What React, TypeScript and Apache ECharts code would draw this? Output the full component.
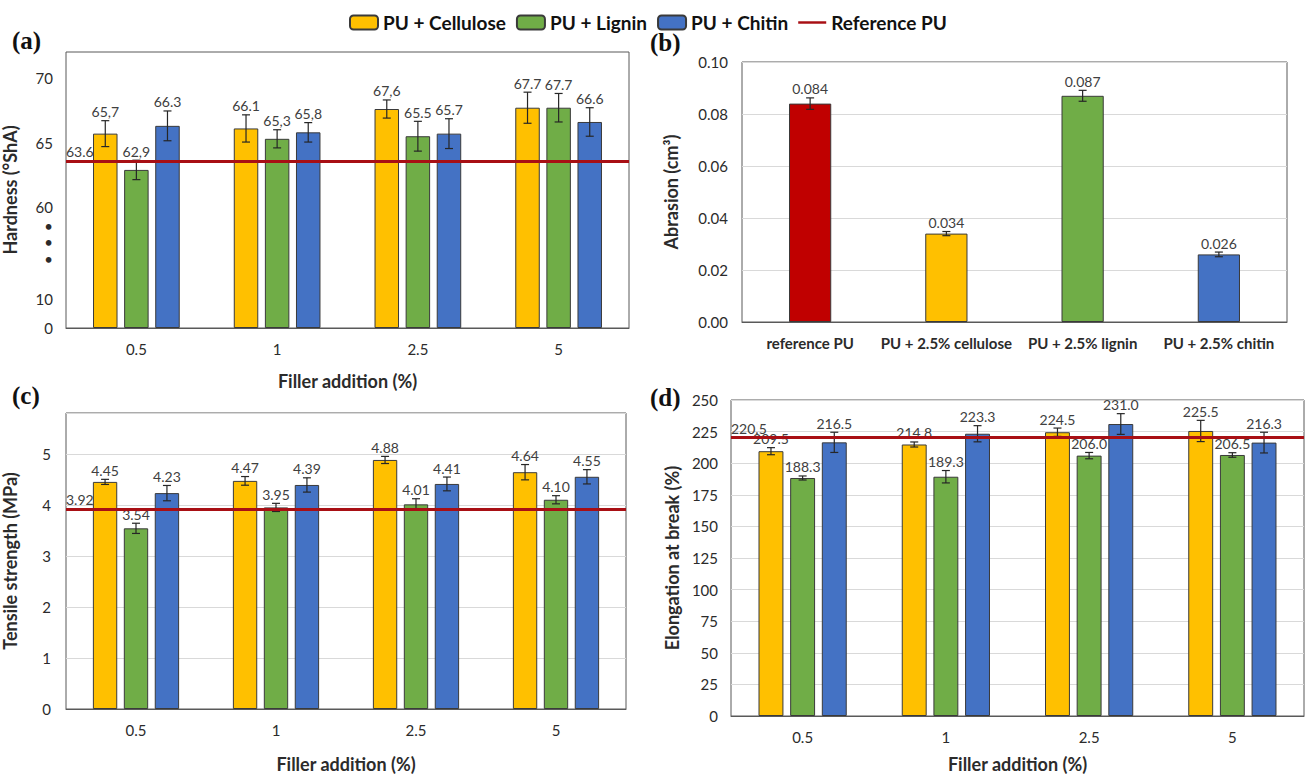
import React, { useEffect, useRef } from "react";
import * as echarts from "echarts";

// ---------- shared ----------
const fillerCategories = ["0.5", "1", "2.5", "5"];
const seriesNames = ["PU + Cellulose", "PU + Lignin", "PU + Chitin"];
const referenceName = "Reference PU";
const panelLetters = ["(a)", "(b)", "(c)", "(d)"];

// ---------- (a) hardness ----------
const hardnessCellulose = [65.7, 66.1, 67.6, 67.7];
const hardnessLignin = [62.9, 65.3, 65.5, 67.7];
const hardnessChitin = [66.3, 65.8, 65.7, 66.6];
const hardnessCelluloseErr = [1.0, 1.05, 0.7, 1.2];
const hardnessLigninErr = [0.75, 0.7, 1.15, 1.1];
const hardnessChitinErr = [1.15, 0.75, 1.15, 1.1];
const hardnessCelluloseLabels = ["65,7", "66.1", "67,6", "67.7"];
const hardnessLigninLabels = ["62,9", "65,3", "65.5", "67.7"];
const hardnessChitinLabels = ["66.3", "65,8", "65.7", "66.6"];
const hardnessReference = 63.6;
const hardnessTickValues = [0, 10, 60, 65, 70];
const hardnessTickLabels = ["0", "10", "60", "65", "70"];

// ---------- (b) abrasion ----------
const abrasionCategories = ["reference PU", "PU + 2.5% cellulose", "PU + 2.5% lignin", "PU + 2.5% chitin"];
const abrasionValues = [0.084, 0.034, 0.087, 0.026];
const abrasionErr = [0.0022, 0.0008, 0.0021, 0.0009];

// ---------- (c) tensile ----------
const tensileCellulose = [4.45, 4.47, 4.88, 4.64];
const tensileLignin = [3.54, 3.95, 4.01, 4.1];
const tensileChitin = [4.23, 4.39, 4.41, 4.55];
const tensileCelluloseErr = [0.05, 0.085, 0.07, 0.15];
const tensileLigninErr = [0.1, 0.08, 0.11, 0.08];
const tensileChitinErr = [0.15, 0.14, 0.135, 0.14];
const tensileReference = 3.92;

// ---------- (d) elongation ----------
const elongCellulose = [209.5, 214.8, 224.5, 225.5];
const elongLignin = [188.3, 189.3, 206.0, 206.5];
const elongChitin = [216.5, 223.3, 231.0, 216.3];
const elongCelluloseErr = [2.8, 2.0, 3.3, 8.4];
const elongLigninErr = [1.6, 4.9, 2.5, 1.8];
const elongChitinErr = [8.0, 6.4, 8.2, 8.2];
const elongReference = 220.5;

// ---------- styling ----------
const COLORS = ["#FFC000", "#70AD47", "#4472C4"];
const ABRASION_COLORS = ["#C00000", "#FFC000", "#70AD47", "#4472C4"];
const REF_COLOR = "#A80F14";
const BORDER = "#3a3a3a";
const TEXT = "#2b2b2b";
const LABEL = "#404040";
const FONT = "Lato, 'Open Sans', sans-serif";
const TICK_SIZE = 15;
const NAME_SIZE = 18;
const DATA_SIZE = 14;

// broken hardness axis: 0..10 compressed, above 60 shifted
const LOW_SCALE = 0.22;
const HIGH_SHIFT = 50.7;
const toHardAxis = (v: number) => (v <= 10 ? v * LOW_SCALE : v - HIGH_SHIFT);
const HARD_DOTS = [5.3, 6.6, 7.9];

const GRIDS = [
  { left: 65, top: 52, width: 564, height: 276 },
  { left: 742, top: 62, width: 545, height: 260 },
  { left: 62, top: 413, width: 564, height: 304 },
  { left: 731, top: 400, width: 573, height: 318 },
];

const GROUP_BAR = 0.174;
const GROUP_GAP = 0.27;
const SINGLE_BAR = 0.31;

function errorRender(slot: number, count: number, barFrac: number, gapFrac: number, labels: string[]) {
  return (params: any, api: any) => {
    const cat = api.value(0);
    const v = api.value(1);
    const e = api.value(2);
    const band = api.size([1, 0])[0];
    const bw = band * barFrac;
    const step = bw * (1 + gapFrac);
    const off = (slot - (count - 1) / 2) * step;
    const mid = api.coord([cat, v]);
    const x = mid[0] + off;
    const yT = api.coord([cat, v + e])[1];
    const yB = api.coord([cat, v - e])[1];
    const cap = 4;
    const st = { stroke: "#262626", lineWidth: 1.2 };
    return {
      type: "group",
      children: [
        { type: "line", shape: { x1: x, y1: yT, x2: x, y2: yB }, style: st },
        { type: "line", shape: { x1: x - cap, y1: yT, x2: x + cap, y2: yT }, style: st },
        { type: "line", shape: { x1: x - cap, y1: yB, x2: x + cap, y2: yB }, style: st },
        {
          type: "text",
          x: x,
          y: yT - 2,
          style: {
            text: labels[params.dataIndex],
            align: "center",
            verticalAlign: "bottom",
            fill: LABEL,
            fontSize: DATA_SIZE,
            fontFamily: FONT,
          },
        },
      ],
    };
  };
}

function groupedPanel(
  gi: number,
  values: number[][],
  errors: number[][],
  labels: string[][],
  ref: number,
  refLabel: string,
  tf: (v: number) => number
) {
  const out: any[] = [];
  values.forEach((vals, s) => {
    out.push({
      type: "bar",
      name: seriesNames[s],
      xAxisIndex: gi,
      yAxisIndex: gi,
      data: vals.map(tf),
      barWidth: GROUP_BAR * 100 + "%",
      barGap: GROUP_GAP * 100 + "%",
      itemStyle: { color: COLORS[s], borderColor: BORDER, borderWidth: 1 },
      z: 2,
    });
  });
  values.forEach((vals, s) => {
    out.push({
      type: "custom",
      name: seriesNames[s] + " error",
      xAxisIndex: gi,
      yAxisIndex: gi,
      data: vals.map((v, i) => [i, tf(v), errors[s][i]]),
      encode: { x: 0, y: 1 },
      renderItem: errorRender(s, values.length, GROUP_BAR, GROUP_GAP, labels[s]),
      z: 4,
      silent: true,
    });
  });
  out.push({
    type: "line",
    name: referenceName,
    xAxisIndex: gi,
    yAxisIndex: gi,
    data: [],
    symbol: "none",
    lineStyle: { color: REF_COLOR, width: 3 },
    itemStyle: { color: REF_COLOR },
    z: 5,
    markLine: {
      silent: true,
      symbol: ["none", "none"],
      lineStyle: { color: REF_COLOR, width: 3, type: "solid" },
      label: {
        show: true,
        position: "insideStartTop",
        formatter: refLabel,
        color: LABEL,
        fontSize: DATA_SIZE,
        fontFamily: FONT,
        distance: [0, 2],
      },
      data: [{ yAxis: tf(ref) }],
    },
  });
  return out;
}

const catAxis = (gi: number, data: string[], name: string, nameGap: number, bold: boolean) => ({
  type: "category",
  gridIndex: gi,
  data,
  name,
  nameLocation: "middle",
  nameGap,
  nameTextStyle: { fontFamily: FONT, fontWeight: "bold", fontSize: NAME_SIZE, color: TEXT },
  axisLine: { show: true, lineStyle: { color: "#595959", width: 1 } },
  axisTick: { show: false },
  axisLabel: {
    fontFamily: FONT,
    fontSize: TICK_SIZE,
    fontWeight: bold ? "bold" : "normal",
    color: TEXT,
    margin: 13,
    interval: 0,
  },
});

const valAxisBase = (gi: number, name: string, nameGap: number) => ({
  type: "value",
  gridIndex: gi,
  name,
  nameLocation: "middle",
  nameGap,
  nameRotate: 90,
  nameTextStyle: { fontFamily: FONT, fontWeight: "bold", fontSize: NAME_SIZE, color: TEXT },
  axisLine: { show: false },
  axisTick: { show: false },
  splitLine: { show: true, lineStyle: { color: "#d9d9d9", width: 1 } },
  axisLabel: { fontFamily: FONT, fontSize: TICK_SIZE, color: TEXT, margin: 13 },
});

export default function App() {
  const ref = useRef<HTMLDivElement>(null);
  useEffect(() => {
    if (!ref.current) return;
    const chart = echarts.init(ref.current, undefined, { renderer: "svg" });

    const hardLabelMap = new Map<number, string>();
    hardnessTickValues.forEach((v, i) => hardLabelMap.set(toHardAxis(v), hardnessTickLabels[i]));
    HARD_DOTS.forEach((d) => hardLabelMap.set(d, "•"));
    const hardCustom = [...hardnessTickValues.map(toHardAxis), ...HARD_DOTS];

    const series: any[] = [
      ...groupedPanel(
        0,
        [hardnessCellulose, hardnessLignin, hardnessChitin],
        [hardnessCelluloseErr, hardnessLigninErr, hardnessChitinErr],
        [hardnessCelluloseLabels, hardnessLigninLabels, hardnessChitinLabels],
        hardnessReference,
        hardnessReference.toFixed(1),
        toHardAxis
      ),
      {
        type: "bar",
        name: "Abrasion",
        xAxisIndex: 1,
        yAxisIndex: 1,
        data: abrasionValues.map((v, i) => ({
          value: v,
          itemStyle: { color: ABRASION_COLORS[i] },
        })),
        barWidth: SINGLE_BAR * 100 + "%",
        itemStyle: { borderColor: BORDER, borderWidth: 1 },
        z: 2,
      },
      {
        type: "custom",
        name: "Abrasion error",
        xAxisIndex: 1,
        yAxisIndex: 1,
        data: abrasionValues.map((v, i) => [i, v, abrasionErr[i]]),
        encode: { x: 0, y: 1 },
        renderItem: errorRender(0, 1, SINGLE_BAR, 0, abrasionValues.map((v) => v.toFixed(3))),
        z: 4,
        silent: true,
      },
      ...groupedPanel(
        2,
        [tensileCellulose, tensileLignin, tensileChitin],
        [tensileCelluloseErr, tensileLigninErr, tensileChitinErr],
        [tensileCellulose, tensileLignin, tensileChitin].map((a) => a.map((v) => v.toFixed(2))),
        tensileReference,
        tensileReference.toFixed(2),
        (v) => v
      ),
      ...groupedPanel(
        3,
        [elongCellulose, elongLignin, elongChitin],
        [elongCelluloseErr, elongLigninErr, elongChitinErr],
        [elongCellulose, elongLignin, elongChitin].map((a) => a.map((v) => v.toFixed(1))),
        elongReference,
        elongReference.toFixed(1),
        (v) => v
      ),
    ];

    const option: any = {
      animation: false,
      backgroundColor: "#ffffff",
      legend: {
        top: 8,
        left: 344,
        itemWidth: 28,
        itemHeight: 14,
        itemGap: 10,
        data: [
          { name: seriesNames[0] },
          { name: seriesNames[1] },
          { name: seriesNames[2] },
          { name: referenceName, icon: "path://M0,0L34,0L34,3L0,3Z", itemStyle: { color: REF_COLOR } },
        ],
        textStyle: { fontFamily: FONT, fontWeight: "bold", fontSize: 19, color: "#111" },
        selectedMode: false,
      },
      grid: GRIDS.map((g) => ({
        ...g,
        show: true,
        borderColor: "#595959",
        borderWidth: 1,
        backgroundColor: "transparent",
        containLabel: false,
      })),
      xAxis: [
        catAxis(0, fillerCategories, "Filler addition (%)", 44, false),
        catAxis(1, abrasionCategories, "", 0, true),
        catAxis(2, fillerCategories, "Filler addition (%)", 46, false),
        catAxis(3, fillerCategories, "Filler addition (%)", 39, false),
      ],
      yAxis: [
        {
          ...valAxisBase(0, "Hardness (°ShA)", 47),
          min: 0,
          max: toHardAxis(72),
          splitLine: { show: false },
          axisLabel: {
            fontFamily: FONT,
            fontSize: TICK_SIZE,
            color: TEXT,
            margin: 13,
            customValues: hardCustom,
            formatter: (v: number) => {
              for (const [k, s] of hardLabelMap) if (Math.abs(k - v) < 1e-6) return s;
              return "";
            },
          },
        },
        {
          ...valAxisBase(1, "Abrasion (cm³)", 62),
          min: 0,
          max: 0.1,
          interval: 0.02,
          axisLabel: {
            fontFamily: FONT,
            fontSize: TICK_SIZE,
            color: TEXT,
            margin: 14,
            formatter: (v: number) => v.toFixed(2),
          },
        },
        {
          ...valAxisBase(2, "Tensile strength (MPa)", 47),
          min: 0,
          max: 5.8,
          interval: 1,
          axisLabel: {
            fontFamily: FONT,
            fontSize: TICK_SIZE,
            color: TEXT,
            margin: 15,
            showMaxLabel: false,
            formatter: (v: number) => (Number.isInteger(v) ? String(v) : ""),
          },
        },
        {
          ...valAxisBase(3, "Elongation at break (%)", 50),
          min: 0,
          max: 250,
          interval: 25,
        },
      ],
      graphic: [
        { type: "text", left: 12, top: 28, style: { text: panelLetters[0], font: "bold 25px 'Liberation Serif', serif", fill: "#111" } },
        { type: "text", left: 650, top: 30, style: { text: panelLetters[1], font: "bold 25px 'Liberation Serif', serif", fill: "#111" } },
        { type: "text", left: 12, top: 383, style: { text: panelLetters[2], font: "bold 25px 'Liberation Serif', serif", fill: "#111" } },
        { type: "text", left: 650, top: 385, style: { text: panelLetters[3], font: "bold 25px 'Liberation Serif', serif", fill: "#111" } },
      ],
      series,
    };
    chart.setOption(option);
    return () => chart.dispose();
  }, []);
  return (
    <div
      ref={ref}
      style={{ position: "fixed", left: 0, top: 0, width: 1306, height: 774, background: "#fff" }}
    />
  );
}
